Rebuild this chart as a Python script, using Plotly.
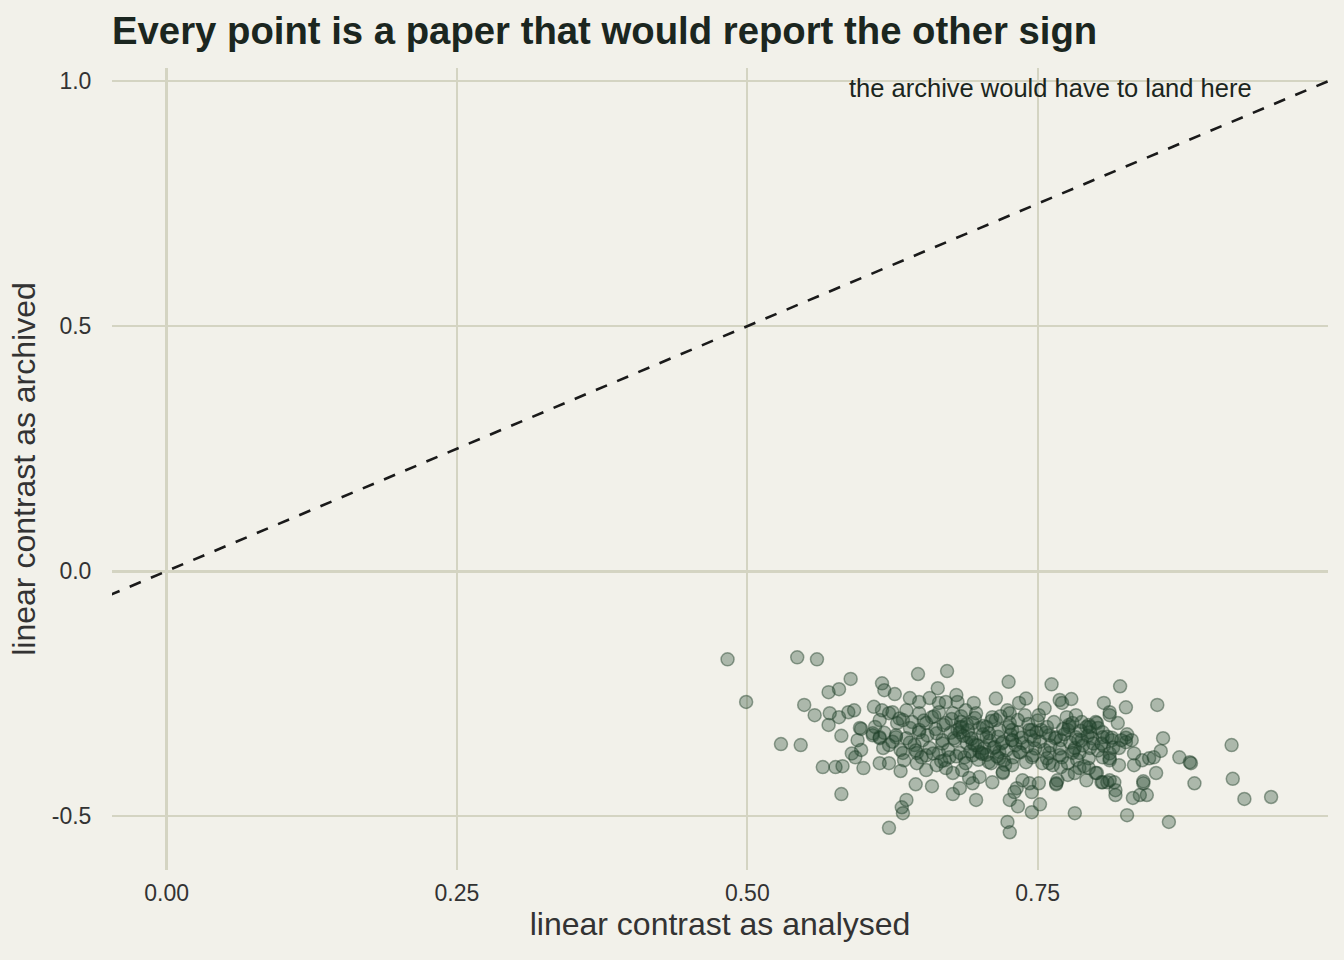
import plotly.graph_objects as go

# linear contrast per paper
analysed = [
    0.483, 0.543, 0.560, 0.499, 0.589, 0.570, 0.579, 0.549, 0.558, 0.571,
    0.579, 0.587, 0.592, 0.570, 0.581, 0.529, 0.546, 0.598, 0.595, 0.598,
    0.590, 0.593, 0.565, 0.576, 0.582, 0.600, 0.581, 0.622, 0.616, 0.618,
    0.627, 0.609, 0.614, 0.608, 0.614, 0.614, 0.622, 0.632, 0.617, 0.628,
    0.634, 0.622, 0.633, 0.634, 0.637,
    0.647, 0.672, 0.664, 0.725, 0.762, 0.714, 0.734, 0.740, 0.769, 0.779,
    0.645, 0.659, 0.677, 0.697, 0.726, 0.733, 0.724, 0.726, 0.745, 0.752,
    0.782, 0.766,
    0.821, 0.807, 0.826, 0.853, 0.812, 0.812, 0.800, 0.794, 0.819, 0.806,
    0.827, 0.826, 0.814, 0.858, 0.807, 0.812, 0.812, 0.820, 0.833, 0.840,
    0.846, 0.850, 0.856, 0.872, 0.881, 0.882, 0.917, 0.852, 0.885, 0.918,
    0.928, 0.951, 0.841, 0.841, 0.838, 0.844, 0.832, 0.827, 0.863, 0.800,
    0.794, 0.805, 0.810, 0.816, 0.817, 0.817,
    0.640, 0.648, 0.657, 0.665, 0.671, 0.680, 0.681, 0.695, 0.616, 0.625,
    0.637, 0.648, 0.659, 0.665, 0.677, 0.688, 0.697, 0.631, 0.629, 0.642,
    0.654, 0.671, 0.684, 0.685, 0.683, 0.694, 0.700, 0.597, 0.608, 0.614,
    0.628, 0.637, 0.648, 0.651, 0.663, 0.668, 0.678, 0.691, 0.689, 0.694,
    0.706, 0.706,
    0.771, 0.724, 0.726, 0.739, 0.756, 0.751, 0.711, 0.714, 0.775, 0.783,
    0.777, 0.776, 0.788, 0.792, 0.795, 0.801, 0.802, 0.726, 0.728, 0.733,
    0.717, 0.708, 0.743, 0.749, 0.753, 0.760, 0.766, 0.770, 0.783, 0.788,
    0.797, 0.806, 0.814, 0.826, 0.831, 0.720, 0.728, 0.737, 0.747,
    0.683, 0.646, 0.654, 0.663, 0.671, 0.677, 0.685, 0.691, 0.694, 0.700,
    0.634, 0.646, 0.654, 0.665, 0.674, 0.683, 0.694, 0.702,
    0.720, 0.728, 0.711, 0.766, 0.767, 0.792, 0.801, 0.806, 0.812, 0.737,
    0.743, 0.745, 0.751, 0.732, 0.730, 0.760, 0.770, 0.776, 0.782, 0.786,
    0.708, 0.717, 0.745, 0.760, 0.780, 0.794, 0.806, 0.812,
    0.696, 0.704, 0.687, 0.713, 0.717, 0.670, 0.657, 0.644, 0.635, 0.622,
    0.721, 0.734, 0.756, 0.769, 0.795, 0.782, 0.820, 0.833, 0.683, 0.681,
    0.700, 0.702, 0.728, 0.745, 0.777, 0.786, 0.720, 0.648,
    # dense core
    0.655, 0.662, 0.668, 0.675, 0.679, 0.686, 0.690, 0.693, 0.698, 0.703,
    0.709, 0.712, 0.716, 0.719, 0.723, 0.727, 0.731, 0.736, 0.741, 0.744,
    0.748, 0.752, 0.757, 0.761, 0.765, 0.769, 0.773, 0.778, 0.781, 0.785,
    0.789, 0.793, 0.798, 0.802, 0.660, 0.667, 0.673, 0.680, 0.688, 0.692,
    0.699, 0.706, 0.710, 0.715, 0.722, 0.729, 0.735, 0.740, 0.746, 0.754,
    0.758, 0.763, 0.771, 0.776, 0.784, 0.790, 0.652, 0.661, 0.669, 0.676,
    0.684, 0.689, 0.696, 0.703, 0.710, 0.718, 0.725, 0.733, 0.742, 0.750,
    0.758, 0.764, 0.772, 0.780, 0.787, 0.795, 0.640, 0.645, 0.650, 0.632,
    0.625, 0.618, 0.610, 0.640, 0.805, 0.810, 0.815, 0.822,
]
archived = [
    -0.180, -0.176, -0.180, -0.267, -0.220, -0.247, -0.241, -0.273, -0.294, -0.290,
    -0.298, -0.288, -0.284, -0.314, -0.336, -0.353, -0.355, -0.322, -0.345, -0.365,
    -0.372, -0.380, -0.400, -0.400, -0.398, -0.402, -0.455, -0.524, -0.229, -0.243,
    -0.251, -0.277, -0.304, -0.335, -0.341, -0.392, -0.392, -0.408, -0.361, -0.339,
    -0.304, -0.290, -0.482, -0.494, -0.467,
    -0.210, -0.204, -0.239, -0.226, -0.231, -0.260, -0.269, -0.260, -0.263, -0.261,
    -0.435, -0.439, -0.455, -0.467, -0.467, -0.480, -0.512, -0.533, -0.492, -0.476,
    -0.494, -0.435,
    -0.235, -0.269, -0.278, -0.273, -0.288, -0.294, -0.308, -0.314, -0.310, -0.329,
    -0.333, -0.349, -0.345, -0.341, -0.357, -0.372, -0.382, -0.361, -0.372, -0.386,
    -0.382, -0.380, -0.367, -0.380, -0.390, -0.392, -0.355, -0.412, -0.433, -0.424,
    -0.465, -0.461, -0.429, -0.433, -0.457, -0.457, -0.463, -0.498, -0.512, -0.412,
    -0.402, -0.431, -0.431, -0.431, -0.447, -0.457,
    -0.259, -0.267, -0.259, -0.269, -0.267, -0.253, -0.267, -0.269, -0.284, -0.288,
    -0.284, -0.290, -0.298, -0.288, -0.290, -0.284, -0.290, -0.301, -0.310, -0.308,
    -0.310, -0.310, -0.308, -0.318, -0.329, -0.310, -0.320, -0.320, -0.331, -0.339,
    -0.335, -0.341, -0.329, -0.345, -0.331, -0.345, -0.341, -0.339, -0.351, -0.351,
    -0.318, -0.339,
    -0.269, -0.284, -0.290, -0.294, -0.280, -0.294, -0.298, -0.304, -0.298, -0.294,
    -0.314, -0.324, -0.308, -0.318, -0.329, -0.310, -0.320, -0.310, -0.324, -0.329,
    -0.324, -0.331, -0.324, -0.329, -0.324, -0.335, -0.339, -0.345, -0.339, -0.345,
    -0.341, -0.339, -0.340, -0.340, -0.345, -0.349, -0.345, -0.351, -0.345,
    -0.443, -0.392, -0.406, -0.396, -0.402, -0.412, -0.406, -0.422, -0.433, -0.420,
    -0.371, -0.371, -0.376, -0.371, -0.380, -0.371, -0.376, -0.371,
    -0.412, -0.396, -0.431, -0.433, -0.427, -0.427, -0.412, -0.431, -0.427, -0.427,
    -0.433, -0.451, -0.433, -0.443, -0.451, -0.392, -0.400, -0.416, -0.412, -0.402,
    -0.390, -0.382, -0.380, -0.371, -0.371, -0.382, -0.380, -0.386,
    -0.355, -0.361, -0.380, -0.359, -0.369, -0.386, -0.361, -0.355, -0.386, -0.355,
    -0.386, -0.369, -0.365, -0.376, -0.361, -0.361, -0.396, -0.396, -0.318, -0.324,
    -0.369, -0.373, -0.345, -0.324, -0.318, -0.371, -0.410, -0.324,
    # dense core
    -0.335, -0.322, -0.352, -0.330, -0.345, -0.336, -0.325, -0.342, -0.356, -0.333,
    -0.346, -0.361, -0.338, -0.352, -0.366, -0.334, -0.355, -0.340, -0.358, -0.337,
    -0.362, -0.348, -0.330, -0.356, -0.341, -0.362, -0.333, -0.350, -0.366, -0.344,
    -0.356, -0.336, -0.352, -0.366, -0.372, -0.388, -0.365, -0.378, -0.392, -0.368,
    -0.385, -0.375, -0.392, -0.378, -0.395, -0.380, -0.370, -0.390, -0.376, -0.392,
    -0.382, -0.396, -0.380, -0.392, -0.385, -0.398, -0.305, -0.296, -0.314, -0.302,
    -0.296, -0.312, -0.300, -0.316, -0.306, -0.296, -0.318, -0.304, -0.312, -0.305,
    -0.318, -0.308, -0.322, -0.310, -0.326, -0.318, -0.350, -0.366, -0.380, -0.365,
    -0.348, -0.330, -0.318, -0.320, -0.352, -0.338, -0.360, -0.345,
]

identity = [-0.05, 1.0]
x_ticks = [0.0, 0.25, 0.5, 0.75]
x_labels = ["0.00", "0.25", "0.50", "0.75"]
y_ticks = [1.0, 0.5, 0.0, -0.5]
y_labels = ["1.0", "0.5", "0.0", "-0.5"]

bg = "#f2f1ea"
grid = "#d4d4c2"
ink = "#1b2620"
label_ink = "#333333"

fig = go.Figure()

# line of equality: where the archive would have to land
fig.add_trace(go.Scatter(
    x=identity, y=identity, mode="lines",
    line=dict(color="#1a1a1a", width=2.6, dash="12px,11px"),
    hoverinfo="skip", showlegend=False,
))

fig.add_trace(go.Scatter(
    x=analysed, y=archived, mode="markers",
    marker=dict(size=13, color="rgba(38,74,50,0.34)",
                line=dict(color="rgba(30,62,40,0.45)", width=1.5)),
    showlegend=False,
))

fig.add_annotation(
    x=0.936, y=0.986, xref="x", yref="y",
    text="the archive would have to land here",
    showarrow=False, xanchor="right", yanchor="middle",
    font=dict(size=25.5, color=ink),
)

fig.update_layout(
    width=1344, height=960,
    paper_bgcolor=bg, plot_bgcolor=bg,
    margin=dict(l=112, r=16, t=68, b=90),
    font=dict(family="Liberation Sans, Arial, sans-serif", color=label_ink),
    title=dict(
        text="<b>Every point is a paper that would report the other sign</b>",
        x=0, xref="paper", xanchor="left", y=0.968, yanchor="middle",
        font=dict(size=38.3, color=ink),
    ),
    xaxis=dict(
        range=[-0.047, 1.0], tickvals=x_ticks, ticktext=x_labels,
        showgrid=True, gridcolor=grid, gridwidth=1.5,
        zeroline=True, zerolinecolor=grid, zerolinewidth=3,
        showline=False, ticks="outside", ticklen=2, tickcolor="rgba(0,0,0,0)",
        tickfont=dict(size=23, color=label_ink),
        title=dict(text="linear contrast as analysed", font=dict(size=32, color=label_ink), standoff=6),
    ),
    yaxis=dict(
        range=[-0.61, 1.027], tickvals=y_ticks, ticktext=y_labels,
        showgrid=True, gridcolor=grid, gridwidth=1.5,
        zeroline=True, zerolinecolor=grid, zerolinewidth=3,
        showline=False, ticks="outside", ticklen=15, tickcolor="rgba(0,0,0,0)",
        tickfont=dict(size=23, color=label_ink),
        title=dict(text="linear contrast as archived", font=dict(size=32, color=label_ink), standoff=6),
    ),
)

fig.write_html(
    "out.html",
    config={"displayModeBar": False},
    post_script="document.body.style.margin='0';document.body.style.background='#f2f1ea';",
)
